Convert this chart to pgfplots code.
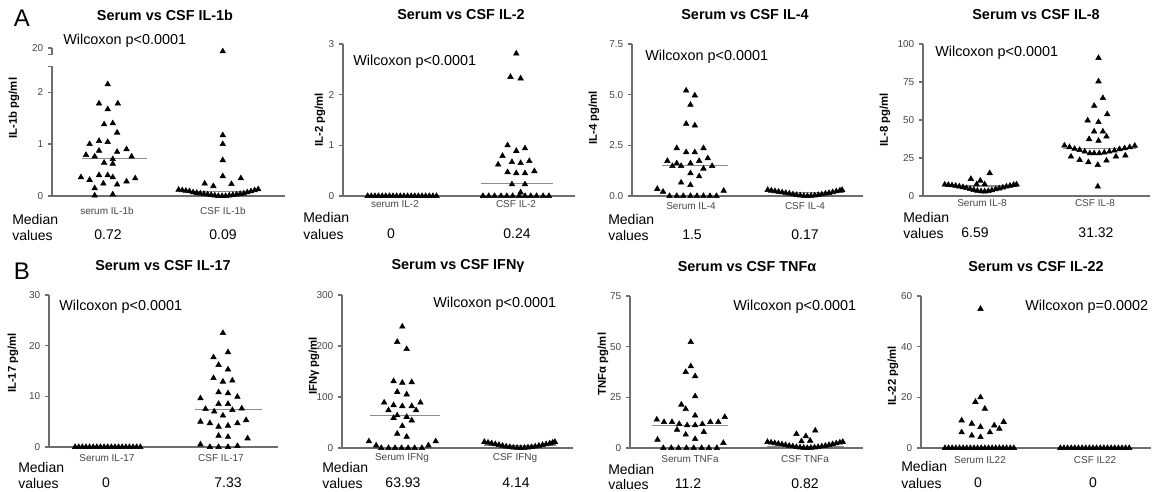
\documentclass[border=0pt]{standalone}
\usepackage{fontspec}
\setmainfont{Liberation Sans}
\usepackage{pgfplots}
\pgfplotsset{compat=1.18}

\definecolor{axgray}{RGB}{110,110,110}
\definecolor{medgray}{RGB}{140,140,140}
\definecolor{lblgray}{RGB}{70,70,70}

\pgfplotsset{
  gp/.style={
    scale only axis, clip=false,
    axis lines*=left,
    axis line style={axgray, line width=0.9pt},
    tick style={axgray, line width=0.9pt},
    tick align=outside,
    major tick length=3pt,
    xtick=\empty,
    ymin=0,
    tick label style={font=\fontsize{7.5}{9}\selectfont, text=lblgray},
    /pgf/number format/assume math mode=true,
  },
  dots/.style={only marks, mark=triangle*, mark size=2.4pt, color=black},
  med/.style={medgray, line width=0.8pt, no marks},
}

\begin{document}
\begin{tikzpicture}
\useasboundingbox (0,0) rectangle (864.75pt,-369pt);

% ---------------- row A ----------------
% IL-1b (broken y axis: 20 drawn at 2.85)
\begin{axis}[gp, at={(39pt,-147pt)}, anchor=south west, width=174.75pt, height=111pt,
  xmin=-7.6, xmax=24.6, ymax=2.85,
  ytick={0,1,2,2.5,2.72,2.85}, yticklabels={0,1,2,{},{},20},
  y axis line style={draw=none}]
  \draw[axgray, line width=0.9pt] (axis cs:-7.6,0) -- (axis cs:-7.6,2.5);
  \draw[axgray, line width=0.9pt] (axis cs:-7.6,2.72) -- (axis cs:-7.6,2.85);
  \addplot[dots] coordinates {
    (0.1,2.15) (-1.1,1.78) (1.5,1.78) (0.1,1.67) (-0.4,1.38) (0.8,1.40) (1.4,1.22)
    (-2.4,1.00) (-1.1,1.06) (0.1,1.04) (-1.1,0.87) (1.4,0.85) (2.7,0.90) (-2.9,0.79)
    (-1.7,0.76) (0.8,0.71) (3.4,0.76) (-0.4,0.64) (0.8,0.62) (-3.6,0.36) (-2.4,0.31)
    (-1.1,0.40) (0.1,0.40) (0.8,0.36) (2.7,0.28) (3.9,0.34) (1.4,0.22) (-1.7,0.15)
    (-0.5,0.24) (-1.7,0.01) (0.8,0.03)};
  \addplot[dots, y filter/.expression={y>5 ? 2.85-(20-y)*0.13 : y}] coordinates {
    (16,19.5) (16,1.17) (16,1.0) (16,0.69) (16,0.38) (13.5,0.24) (14.7,0.19) (17.2,0.23) (18.5,0.34)
    (9.9,0.12) (10.4,0.11) (10.9,0.10) (11.4,0.09) (11.9,0.07) (12.4,0.06) (12.9,0.05)
    (13.4,0.04) (13.9,0.03) (14.4,0.02) (14.9,0.01) (15.4,0) (15.9,0) (16.4,0) (16.9,0.01)
    (17.4,0.02) (17.9,0.03) (18.4,0.04) (18.9,0.05) (19.4,0.07) (19.9,0.09) (20.4,0.11) (20.9,0.13)};
  \addplot[med] coordinates {(-3.5,0.72) (5.5,0.72)};
  \addplot[med] coordinates {(10.1,0.09) (20.7,0.09)};
\end{axis}

% IL-2
\begin{axis}[gp, at={(257.25pt,-147pt)}, anchor=south west, width=174pt, height=114pt,
  xmin=-7.1, xmax=24.9, ymax=3, ytick={0,1,2,3}]
  \addplot[dots] coordinates {
    (-3.7,0) (-3.2,0) (-2.7,0) (-2.2,0) (-1.7,0) (-1.2,0) (-0.7,0) (-0.2,0) (0.3,0) (0.8,0)
    (1.3,0) (1.8,0) (2.3,0) (2.8,0) (3.3,0) (3.8,0) (4.3,0) (4.8,0) (5.3,0) (5.8,0)};
  \addplot[dots] coordinates {
    (16.8,2.81) (16,2.35) (17.4,2.32) (15.6,1.0) (16.8,0.89) (18,0.94) (14.9,0.79)
    (16.2,0.67) (17.4,0.65) (18.6,0.69) (14.3,0.62) (15.6,0.47) (16.8,0.45) (18,0.45)
    (19.3,0.49) (16.2,0.23) (18,0.23) (17.4,0.07)
    (12.2,0) (13,0) (13.8,0) (14.7,0) (15.5,0) (16.3,0) (17.2,0) (18,0) (18.8,0) (19.6,0) (20.5,0) (21.3,0)};
  \addplot[med] coordinates {(12,0.24) (21.8,0.24)};
\end{axis}

% IL-4
\begin{axis}[gp, at={(474pt,-147pt)}, anchor=south west, width=173.25pt, height=114pt,
  xmin=-8.1, xmax=23.9, ymax=7.5, ytick={0,2.5,5,7.5},
  yticklabel style={/pgf/number format/.cd, fixed, fixed zerofill, precision=1}]
  \addplot[dots] coordinates {
    (-0.6,5.2) (0.6,4.96) (0,4.5) (-0.6,3.56) (0.6,3.48) (-1.9,2.36) (-0.6,2.16) (0.6,2.16)
    (1.8,2.36) (-3.2,1.73) (-1.9,1.61) (-2.5,1.48) (-1.3,1.48) (0,1.61) (1.2,1.73) (2.4,1.86)
    (3.0,1.48) (1.8,1.35) (0,1.12) (1.2,0.97) (-1.3,0.66) (0,0.54) (-4.6,0.35) (-3.8,0.21)
    (4.6,0.26) (-2.9,0) (-1.9,0) (-1.0,0) (0,0) (0.9,0) (1.8,0) (2.7,0) (3.6,0)};
  \addplot[dots] coordinates {
    (10.7,0.30) (11.2,0.27) (11.7,0.24) (12.2,0.21) (12.7,0.18) (13.2,0.15) (13.7,0.12)
    (14.2,0.08) (14.7,0.05) (15.2,0.03) (15.7,0.01) (16.2,0) (16.7,0.01) (17.2,0.03)
    (17.7,0.05) (18.2,0.08) (18.7,0.12) (19.2,0.15) (19.7,0.19) (20.2,0.23) (20.7,0.27) (21.0,0.30)};
  \addplot[med] coordinates {(-4,1.5) (5.2,1.5)};
  \addplot[med] coordinates {(10.7,0.17) (21.3,0.17)};
\end{axis}

% IL-8
\begin{axis}[gp, at={(692.25pt,-147pt)}, anchor=south west, width=170.25pt, height=114pt,
  xmin=-8.2, xmax=23.1, ymax=100, ytick={0,25,50,75,100}]
  \addplot[dots] coordinates {
    (1.0,15) (-1.6,11.2) (-0.3,10.1) (0.3,7.7) (-0.8,7.7)
    (-5.2,7.5) (-4.7,7.3) (-4.2,7.0) (-3.7,6.7) (-3.2,6.3) (-2.7,5.8) (-2.2,5.2) (-1.7,4.6)
    (-1.2,4.0) (-0.7,3.5) (-0.2,3.1) (0.3,3.0) (0.8,3.3) (1.3,3.8) (1.8,4.4) (2.3,5.0)
    (2.8,5.6) (3.3,6.2) (3.8,6.8) (4.3,7.3) (4.7,7.6)};
  \addplot[dots] coordinates {
    (16,90.8) (16,75.4) (16.6,64.4) (15.4,59.3) (17.2,53.8) (14.5,49.7) (16,48.6)
    (15.4,42.4) (16.6,42.4) (14.7,37.4) (16,36.3) (17.1,39.1)
    (11.3,33.2) (12,32.1) (12.7,31) (13.4,30.3) (14.1,29.2) (14.8,28.1) (15.4,28.1) (16.1,28.1)
    (16.8,28.6) (17.5,29.2) (18.2,29.9) (18.9,30.8) (19.6,31.4) (20.3,32.1) (21,33)
    (12.2,25.9) (13.4,23.7) (14.6,22.2) (15.9,20.4) (17.1,23.3) (18.4,25.9) (19.7,26.6)
    (15.9,6.2)};
  \addplot[med] coordinates {(-5.2,6.59) (4.9,6.59)};
  \addplot[med] coordinates {(11.1,31.32) (21.2,31.32)};
\end{axis}

% ---------------- row B ----------------
% IL-17
\begin{axis}[gp, at={(36.75pt,-335.25pt)}, anchor=south west, width=171.75pt, height=114pt,
  xmin=-8, xmax=23.6, ymax=30, ytick={0,10,20,30}]
  \addplot[dots] coordinates {
    (-4.4,0) (-3.9,0) (-3.4,0) (-2.9,0) (-2.4,0) (-1.9,0) (-1.4,0) (-0.9,0) (-0.4,0) (0.1,0)
    (0.6,0) (1.1,0) (1.6,0) (2.1,0) (2.6,0) (3.1,0) (3.6,0) (4.1,0) (4.6,0)};
  \addplot[dots] coordinates {
    (16,22.5) (14.7,17.7) (16.7,18.7) (15.4,16.2) (16.7,15.3) (14.7,13.6) (16,12.9) (17.3,13.1)
    (15.4,10.8) (16.7,10.6) (12.9,9.6) (18,9.9) (15.4,8.5) (16.7,8.5) (13.6,7.5) (14.8,7.0)
    (17.3,7.3) (18.6,7.6) (16,6.2) (12.9,5.0) (14.2,4.7) (15.4,4.0) (16.7,4.2) (18,4.7)
    (19.2,5.3) (15.4,2.2) (16.7,2.0) (19.4,1.7) (12.9,0.5) (14.2,0) (15.4,0) (16.7,0) (18,0.2)};
  \addplot[med] coordinates {(12.2,7.33) (21.4,7.33)};
\end{axis}

% IFN-gamma
\begin{axis}[gp, at={(256.5pt,-336pt)}, anchor=south west, width=173.25pt, height=114.75pt,
  xmin=-8.2, xmax=23.6, ymax=300, ytick={0,100,200,300}]
  \addplot[dots] coordinates {
    (0.1,238) (-0.6,208) (0.7,194) (-1.1,131) (0.1,128) (1.4,129) (-0.6,110) (0.7,105)
    (-2.4,89) (-1.1,84) (0.1,82) (2.6,89) (-1.8,74) (-0.6,64) (1.4,82) (2.0,74) (-1.1,59)
    (0.7,61) (1.4,54) (0.1,43) (-0.6,28) (0.7,22) (-4.5,13) (-3.5,5) (4.7,13) (3.7,5)
    (-2.8,0) (-1.8,0) (-0.9,0) (0,0) (0.9,0) (1.8,0) (2.8,0)};
  \addplot[dots] coordinates {
    (11.4,12) (11.9,10.5) (12.4,9) (12.9,7.5) (13.4,6) (13.9,4.5) (14.4,3) (14.9,2) (15.4,1)
    (15.9,0.3) (16.4,0) (16.9,0.3) (17.4,1) (17.9,2) (18.4,3) (18.9,4.5) (19.4,6) (19.9,7.5)
    (20.4,9) (20.8,10.5) (21.1,12)};
  \addplot[med] coordinates {(-4.4,63.93) (5.3,63.93)};
  \addplot[med] coordinates {(11.4,4.14) (21.3,4.14)};
\end{axis}

% TNF-alpha
\begin{axis}[gp, at={(472.5pt,-336pt)}, anchor=south west, width=174.75pt, height=114pt,
  xmin=-8.3, xmax=23.9, ymax=75, ytick={0,25,50,75}]
  \addplot[dots] coordinates {
    (0.1,52.3) (0.1,40.3) (-0.6,37.5) (0.7,35.4) (0.7,25.5) (-1.2,21.4) (-0.6,19.2) (0.7,16)
    (-4.6,14) (-3.6,12.8) (-2.5,12.8) (-1.5,11.8) (-0.4,11.2) (0.7,11.2) (1.7,11.8) (2.8,12.8)
    (3.9,12.8) (4.8,15.3) (-1.8,9) (-0.6,6.6) (0.7,4.4) (1.9,7.9) (-4.5,4.1) (4.6,2.5)
    (-3.7,0) (-2.6,0) (-1.6,0) (-0.5,0) (0.5,0) (1.6,0) (2.6,0) (3.7,0)};
  \addplot[dots] coordinates {
    (14.7,6.9) (17.3,8.6) (16,5.8) (16.6,3.6) (15.4,3.3)
    (10.7,3) (11.2,2.7) (11.7,2.4) (12.2,2.1) (12.7,1.8) (13.2,1.5) (13.7,1.1) (14.2,0.8)
    (14.7,0.5) (15.2,0.3) (15.7,0.1) (16.2,0) (16.7,0.1) (17.2,0.3) (17.7,0.5) (18.2,0.8)
    (18.7,1.1) (19.2,1.5) (19.7,1.9) (20.2,2.3) (20.7,2.7) (21.1,3.0)};
  \addplot[med] coordinates {(-5.3,11.2) (5.3,11.2)};
  \addplot[med] coordinates {(10.7,0.82) (21.3,0.82)};
\end{axis}

% IL-22
\begin{axis}[gp, at={(690.75pt,-336pt)}, anchor=south west, width=172.5pt, height=114pt,
  xmin=-8.1, xmax=23.6, ymax=60, ytick={0,20,40,60}]
  \addplot[dots] coordinates {
    (0.1,54.9) (0.1,20) (-0.6,18.2) (0.7,15.5) (-2.5,10.9) (-1.1,9.6) (0.1,8.3) (2.0,8.9)
    (2.7,7.6) (3.3,10.3) (-2.5,6.2) (-1.1,4.9) (0.1,4.3) (1.4,6.2)
    (-4.8,0) (-4.3,0) (-3.8,0) (-3.3,0) (-2.8,0) (-2.3,0) (-1.8,0) (-1.3,0) (-0.8,0) (-0.3,0)
    (0.2,0) (0.7,0) (1.2,0) (1.7,0) (2.2,0) (2.7,0) (3.2,0) (3.7,0) (4.2,0) (4.7,0)};
  \addplot[dots] coordinates {
    (11.1,0) (11.6,0) (12.1,0) (12.6,0) (13.1,0) (13.6,0) (14.1,0) (14.6,0) (15.1,0) (15.6,0)
    (16.1,0) (16.6,0) (17.1,0) (17.6,0) (18.1,0) (18.6,0) (19.1,0) (19.6,0) (20.1,0) (20.6,0)};
\end{axis}

% ---------------- texts (positions in pixels of the figure) ----------------
\begin{scope}[x=0.75pt, y=-0.75pt,
  ttl/.style={font=\bfseries\fontsize{10.8}{12}\selectfont},
  wil/.style={anchor=west, inner sep=0pt, font=\fontsize{10.8}{12}\selectfont},
  cat/.style={inner sep=0pt, font=\fontsize{7.5}{9}\selectfont, text=lblgray},
  md/.style={anchor=west, inner sep=0pt, font=\fontsize{10.5}{12}\selectfont},
  num/.style={inner sep=0pt, font=\fontsize{10.5}{12}\selectfont},
  yl/.style={rotate=90, inner sep=0pt, font=\bfseries\fontsize{8.5}{10}\selectfont}]
  \node[font=\fontsize{18}{20}\selectfont] at (22,18) {A};
  \node[font=\fontsize{18}{20}\selectfont] at (22,271) {B};

  \node[ttl] at (165,15) {Serum vs CSF IL-1b};
  \node[ttl] at (461,15) {Serum vs CSF IL-2};
  \node[ttl] at (745,15) {Serum vs CSF IL-4};
  \node[ttl] at (1036,15) {Serum vs CSF IL-8};
  \node[ttl] at (163,266) {Serum vs CSF IL-17};
  \node[ttl] at (458,266) {Serum vs CSF IFNγ};
  \node[ttl] at (747,267) {Serum vs CSF TNFα};
  \node[ttl] at (1036,267) {Serum vs CSF IL-22};

  \node[wil] at (63,41) {Wilcoxon p<0.0001};
  \node[wil] at (353,62) {Wilcoxon p<0.0001};
  \node[wil] at (645,57) {Wilcoxon p<0.0001};
  \node[wil] at (935,53) {Wilcoxon p<0.0001};
  \node[wil] at (59,307) {Wilcoxon p<0.0001};
  \node[wil] at (433,304) {Wilcoxon p<0.0001};
  \node[wil] at (733,307) {Wilcoxon p<0.0001};
  \node[wil] at (1025,307) {Wilcoxon p=0.0002};

  \node[yl] at (14,108) {IL-1b pg/ml};
  \node[yl] at (320,120) {IL-2 pg/ml};
  \node[yl] at (594,118) {IL-4 pg/ml};
  \node[yl] at (885,120) {IL-8 pg/ml};
  \node[yl] at (13,363) {IL-17 pg/ml};
  \node[yl] at (314,366) {IFNγ pg/ml};
  \node[yl] at (603,364) {TNFα pg/ml};
  \node[yl] at (893,376) {IL-22 pg/ml};

  \node[cat] at (107,211) {serum IL-1b};  \node[cat] at (223,211) {CSF IL-1b};
  \node[cat] at (395,204) {serum IL-2};   \node[cat] at (516,204) {CSF IL-2};
  \node[cat] at (691,206) {Serum IL-4};   \node[cat] at (805,206) {CSF IL-4};
  \node[cat] at (982,203) {Serum IL-8};   \node[cat] at (1095,203) {CSF IL-8};
  \node[cat] at (107,458) {Serum IL-17};  \node[cat] at (221,458) {CSF IL-17};
  \node[cat] at (402,458) {Serum IFNg};   \node[cat] at (515,458) {CSF IFNg};
  \node[cat] at (690,459) {Serum TNFa};   \node[cat] at (805,459) {CSF TNFa};
  \node[cat] at (980,460) {Serum IL22};   \node[cat] at (1095,460) {CSF IL22};

  \node[md] at (12,219) {Median};  \node[md] at (12,235) {values};
  \node[md] at (303,217) {Median}; \node[md] at (303,234) {values};
  \node[md] at (608,219) {Median}; \node[md] at (608,235) {values};
  \node[md] at (903,217) {Median}; \node[md] at (903,233) {values};
  \node[md] at (18,467) {Median};  \node[md] at (18,483) {values};
  \node[md] at (322,467) {Median}; \node[md] at (322,483) {values};
  \node[md] at (608,469) {Median}; \node[md] at (608,484) {values};
  \node[md] at (901,466) {Median}; \node[md] at (901,483) {values};

  \node[num] at (108,235) {0.72};  \node[num] at (223,235) {0.09};
  \node[num] at (391,234) {0};     \node[num] at (517,234) {0.24};
  \node[num] at (692,235) {1.5};   \node[num] at (805,235) {0.17};
  \node[num] at (975,233) {6.59};  \node[num] at (1096,233) {31.32};
  \node[num] at (106,483) {0};     \node[num] at (228,483) {7.33};
  \node[num] at (403,483) {63.93}; \node[num] at (516,483) {4.14};
  \node[num] at (688,484) {11.2};  \node[num] at (805,484) {0.82};
  \node[num] at (978,483) {0};     \node[num] at (1093,483) {0};
\end{scope}
\end{tikzpicture}
\end{document}
